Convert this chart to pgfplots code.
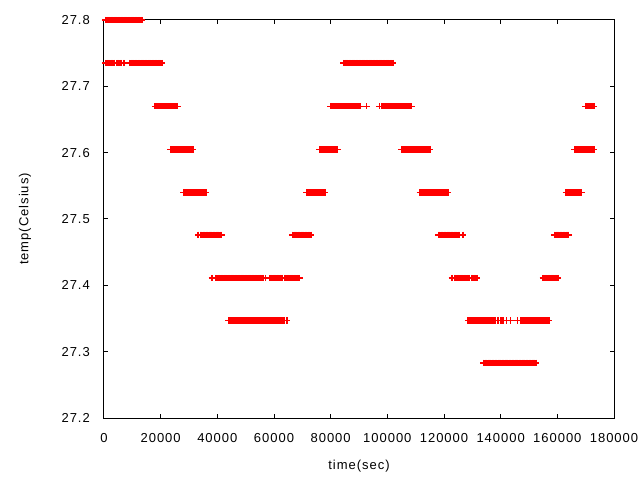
\documentclass[border=0pt]{standalone}
\usepackage{fontspec}
\setmainfont{Liberation Sans}[LetterSpace=7.5]
\usepackage{pgfplots}
\pgfplotsset{compat=1.18}
\begin{document}
\begin{tikzpicture}
\pgfplotsset{dat/.style={only marks, mark=+, mark size=3.2bp, color={rgb,255:red,255;green,0;blue,0}, line width=1.4bp}}
\begin{axis}[
  at={(0,0)}, anchor=south west,
  scale only axis, width=510bp, height=398bp,
  xmin=0, xmax=180000, ymin=27.2, ymax=27.8,
  clip=false,
  scaled x ticks=false, scaled y ticks=false,
  xtick={0,20000,40000,60000,80000,100000,120000,140000,160000,180000},
  xticklabels={0,20000,40000,60000,80000,100000,120000,140000,160000,180000},
  ytick={27.2,27.3,27.4,27.5,27.6,27.7,27.8},
  yticklabels={27.2,27.3,27.4,27.5,27.6,27.7,27.8},
  tick align=inside, major tick length=4.5bp,
  tick style={black, line width=1bp},
  axis line style={black, line width=1bp},
  every tick label/.append style={font=\fontsize{13bp}{15bp}\selectfont, inner sep=0pt},
  xticklabel style={anchor=center, yshift=-20bp},
  yticklabel style={anchor=east, xshift=-14bp},
  label style={font=\fontsize{13bp}{15bp}\selectfont, inner sep=0pt},
  xlabel={time(sec)}, ylabel={temp(Celsius)},
  xlabel style={at={(axis description cs:0.5,-0.1206)}, anchor=center},
  ylabel style={at={(axis description cs:-0.155,0.5)}, anchor=center},
]
% 27.8
\addplot[dat] coordinates {(500,27.8)(1000,27.8)(1500,27.8)(2000,27.8)(2500,27.8)(3000,27.8)(3500,27.8)(4000,27.8)(4500,27.8)(5000,27.8)(5500,27.8)(6000,27.8)(6500,27.8)(7000,27.8)(7500,27.8)(8000,27.8)(8500,27.8)(9000,27.8)(9500,27.8)(10000,27.8)(10500,27.8)(11000,27.8)(11500,27.8)(12000,27.8)(12500,27.8)(13000,27.8)(13500,27.8)};
% 27.735
\addplot[dat] coordinates {(500,27.735)(1000,27.735)(1500,27.735)(2000,27.735)(2500,27.735)(3000,27.735)(3500,27.735)
(4600,27.735)(5000,27.735)(5700,27.735)(6100,27.735)(6800,27.735)(7200,27.735)
(9000,27.735)(9500,27.735)(10000,27.735)(10500,27.735)(11000,27.735)(11500,27.735)(12000,27.735)(12500,27.735)(13000,27.735)(13500,27.735)(14000,27.735)(14500,27.735)(15000,27.735)(15500,27.735)(16000,27.735)(16500,27.735)(17000,27.735)(17500,27.735)(18000,27.735)(18500,27.735)(19000,27.735)(19500,27.735)(20000,27.735)(20500,27.735)
(84500,27.735)(85000,27.735)(85500,27.735)(86000,27.735)(86500,27.735)(87000,27.735)(87500,27.735)(88000,27.735)(88500,27.735)(89000,27.735)(89500,27.735)(90000,27.735)(90500,27.735)(91000,27.735)(91500,27.735)(92000,27.735)(92500,27.735)(93000,27.735)(93500,27.735)(94000,27.735)(94500,27.735)(95000,27.735)(95500,27.735)(96000,27.735)(96500,27.735)(97000,27.735)(97500,27.735)(98000,27.735)(98500,27.735)(99000,27.735)(99500,27.735)(100000,27.735)(100500,27.735)(101000,27.735)(101500,27.735)(102000,27.735)};
% 27.67
\addplot[dat] coordinates {(18000,27.67)(18500,27.67)(19000,27.67)(19500,27.67)(20000,27.67)(20500,27.67)(21000,27.67)(21500,27.67)(22000,27.67)(22500,27.67)(23000,27.67)(23500,27.67)(24000,27.67)(24500,27.67)(25000,27.67)(25500,27.67)(26000,27.67)
(80000,27.67)(80500,27.67)(81000,27.67)(81500,27.67)(82000,27.67)(82500,27.67)(83000,27.67)(83500,27.67)(84000,27.67)(84500,27.67)(85000,27.67)(85500,27.67)(86000,27.67)(86500,27.67)(87000,27.67)(87500,27.67)(88000,27.67)(88500,27.67)(89000,27.67)(89500,27.67)(90000,27.67)(90500,27.67)
(92700,27.67)(97200,27.67)
(98000,27.67)(98500,27.67)(99000,27.67)(99500,27.67)(100000,27.67)(100500,27.67)(101000,27.67)(101500,27.67)(102000,27.67)(102500,27.67)(103000,27.67)(103500,27.67)(104000,27.67)(104500,27.67)(105000,27.67)(105500,27.67)(106000,27.67)(106500,27.67)(107000,27.67)(107500,27.67)(108000,27.67)(108500,27.67)
(170000,27.67)(170500,27.67)(171000,27.67)(171500,27.67)(172000,27.67)(172500,27.67)(173000,27.67)};
% 27.605
\addplot[dat] coordinates {(23500,27.605)(24000,27.605)(24500,27.605)(25000,27.605)(25500,27.605)(26000,27.605)(26500,27.605)(27000,27.605)(27500,27.605)(28000,27.605)(28500,27.605)(29000,27.605)(29500,27.605)(30000,27.605)(30500,27.605)(31000,27.605)(31500,27.605)
(76000,27.605)(76500,27.605)(77000,27.605)(77500,27.605)(78000,27.605)(78500,27.605)(79000,27.605)(79500,27.605)(80000,27.605)(80500,27.605)(81000,27.605)(81500,27.605)(82000,27.605)(82500,27.605)
(105000,27.605)(105500,27.605)(106000,27.605)(106500,27.605)(107000,27.605)(107500,27.605)(108000,27.605)(108500,27.605)(109000,27.605)(109500,27.605)(110000,27.605)(110500,27.605)(111000,27.605)(111500,27.605)(112000,27.605)(112500,27.605)(113000,27.605)(113500,27.605)(114000,27.605)(114500,27.605)(115000,27.605)
(166000,27.605)(166500,27.605)(167000,27.605)(167500,27.605)(168000,27.605)(168500,27.605)(169000,27.605)(169500,27.605)(170000,27.605)(170500,27.605)(171000,27.605)(171500,27.605)(172000,27.605)(172500,27.605)(173000,27.605)};
% 27.54
\addplot[dat] coordinates {(28000,27.54)(28500,27.54)(29000,27.54)(29500,27.54)(30000,27.54)(30500,27.54)(31000,27.54)(31500,27.54)(32000,27.54)(32500,27.54)(33000,27.54)(33500,27.54)(34000,27.54)(34500,27.54)(35000,27.54)(35500,27.54)(36000,27.54)
(71500,27.54)(72000,27.54)(72500,27.54)(73000,27.54)(73500,27.54)(74000,27.54)(74500,27.54)(75000,27.54)(75500,27.54)(76000,27.54)(76500,27.54)(77000,27.54)(77500,27.54)(78000,27.54)
(111500,27.54)(112000,27.54)(112500,27.54)(113000,27.54)(113500,27.54)(114000,27.54)(114500,27.54)(115000,27.54)(115500,27.54)(116000,27.54)(116500,27.54)(117000,27.54)(117500,27.54)(118000,27.54)(118500,27.54)(119000,27.54)(119500,27.54)(120000,27.54)(120500,27.54)(121000,27.54)(121500,27.54)
(163000,27.54)(163500,27.54)(164000,27.54)(164500,27.54)(165000,27.54)(165500,27.54)(166000,27.54)(166500,27.54)(167000,27.54)(167500,27.54)(168000,27.54)(168500,27.54)};
% 27.476
\addplot[dat] coordinates {(33200,27.476)
(34000,27.476)(34500,27.476)(35000,27.476)(35500,27.476)(36000,27.476)(36500,27.476)(37000,27.476)(37500,27.476)(38000,27.476)(38500,27.476)(39000,27.476)(39500,27.476)(40000,27.476)(40500,27.476)(41000,27.476)(41500,27.476)
(66500,27.476)(67000,27.476)(67500,27.476)(68000,27.476)(68500,27.476)(69000,27.476)(69500,27.476)(70000,27.476)(70500,27.476)(71000,27.476)(71500,27.476)(72000,27.476)(72500,27.476)(73000,27.476)
(118000,27.476)(118500,27.476)(119000,27.476)(119500,27.476)(120000,27.476)(120500,27.476)(121000,27.476)(121500,27.476)(122000,27.476)(122500,27.476)(123000,27.476)(123500,27.476)(124000,27.476)(124500,27.476)(125000,27.476)(125500,27.476)
(126700,27.476)
(159000,27.476)(159500,27.476)(160000,27.476)(160500,27.476)(161000,27.476)(161500,27.476)(162000,27.476)(162500,27.476)(163000,27.476)(163500,27.476)(164000,27.476)};
% 27.411
\addplot[dat] coordinates {(38100,27.411)
(39300,27.411)(39800,27.411)(40300,27.411)(40800,27.411)(41300,27.411)(41800,27.411)(42300,27.411)(42800,27.411)(43300,27.411)(43800,27.411)(44300,27.411)(44800,27.411)(45300,27.411)(45800,27.411)(46300,27.411)(46800,27.411)(47300,27.411)(47800,27.411)(48300,27.411)(48800,27.411)(49300,27.411)(49800,27.411)(50300,27.411)(50800,27.411)(51300,27.411)(51800,27.411)(52300,27.411)(52800,27.411)(53300,27.411)(53800,27.411)(54300,27.411)(54800,27.411)(55300,27.411)(55800,27.411)(56300,27.411)
(56900,27.411)
(58600,27.411)(59100,27.411)(59600,27.411)(60100,27.411)(60600,27.411)(61100,27.411)(61600,27.411)(62100,27.411)(62600,27.411)(63100,27.411)(63600,27.411)(64100,27.411)(64600,27.411)(65100,27.411)(65600,27.411)(66100,27.411)(66600,27.411)(67100,27.411)(67600,27.411)(68100,27.411)(68600,27.411)(69100,27.411)
(122800,27.411)
(123600,27.411)(124100,27.411)(124600,27.411)(125100,27.411)(125600,27.411)(126100,27.411)(126600,27.411)(127100,27.411)(127600,27.411)(128100,27.411)(128600,27.411)(129100,27.411)(129600,27.411)(130100,27.411)(130600,27.411)(131100,27.411)(131600,27.411)
(154900,27.411)
(155700,27.411)(156200,27.411)(156700,27.411)(157200,27.411)(157700,27.411)(158200,27.411)(158700,27.411)(159200,27.411)(159700,27.411)(160200,27.411)};
% 27.347
\addplot[dat] coordinates {(44000,27.347)(44500,27.347)(45000,27.347)(45500,27.347)(46000,27.347)(46500,27.347)(47000,27.347)(47500,27.347)(48000,27.347)(48500,27.347)(49000,27.347)(49500,27.347)(50000,27.347)(50500,27.347)(51000,27.347)(51500,27.347)(52000,27.347)(52500,27.347)(53000,27.347)(53500,27.347)(54000,27.347)(54500,27.347)(55000,27.347)(55500,27.347)(56000,27.347)(56500,27.347)(57000,27.347)(57500,27.347)(58000,27.347)(58500,27.347)(59000,27.347)(59500,27.347)(60000,27.347)(60500,27.347)(61000,27.347)(61500,27.347)(62000,27.347)(62500,27.347)(63000,27.347)(63500,27.347)
(64600,27.347)
(128500,27.347)(129000,27.347)(129500,27.347)(130000,27.347)(130500,27.347)(131000,27.347)(131500,27.347)(132000,27.347)(132500,27.347)(133000,27.347)(133500,27.347)(134000,27.347)(134500,27.347)(135000,27.347)(135500,27.347)(136000,27.347)(136500,27.347)(137000,27.347)(137500,27.347)(138000,27.347)
(139000,27.347)
(140000,27.347)(140500,27.347)(141000,27.347)
(142000,27.347)(143500,27.347)(146000,27.347)
(147000,27.347)(147500,27.347)(148000,27.347)(148500,27.347)(149000,27.347)(149500,27.347)(150000,27.347)(150500,27.347)(151000,27.347)(151500,27.347)(152000,27.347)(152500,27.347)(153000,27.347)(153500,27.347)(154000,27.347)(154500,27.347)(155000,27.347)(155500,27.347)(156000,27.347)(156500,27.347)(157000,27.347)};
% 27.283
\addplot[dat] coordinates {(134000,27.283)(134500,27.283)(135000,27.283)(135500,27.283)(136000,27.283)(136500,27.283)(137000,27.283)(137500,27.283)(138000,27.283)(138500,27.283)(139000,27.283)(139500,27.283)(140000,27.283)(140500,27.283)(141000,27.283)(141500,27.283)(142000,27.283)(142500,27.283)(143000,27.283)(143500,27.283)(144000,27.283)(144500,27.283)(145000,27.283)(145500,27.283)(146000,27.283)(146500,27.283)(147000,27.283)(147500,27.283)(148000,27.283)(148500,27.283)(149000,27.283)(149500,27.283)(150000,27.283)(150500,27.283)(151000,27.283)(151500,27.283)(152000,27.283)(152500,27.283)};
\end{axis}
\pgfresetboundingbox
\path[use as bounding box] (-104bp,-62bp) rectangle (536bp,418bp);
\end{tikzpicture}
\end{document}
